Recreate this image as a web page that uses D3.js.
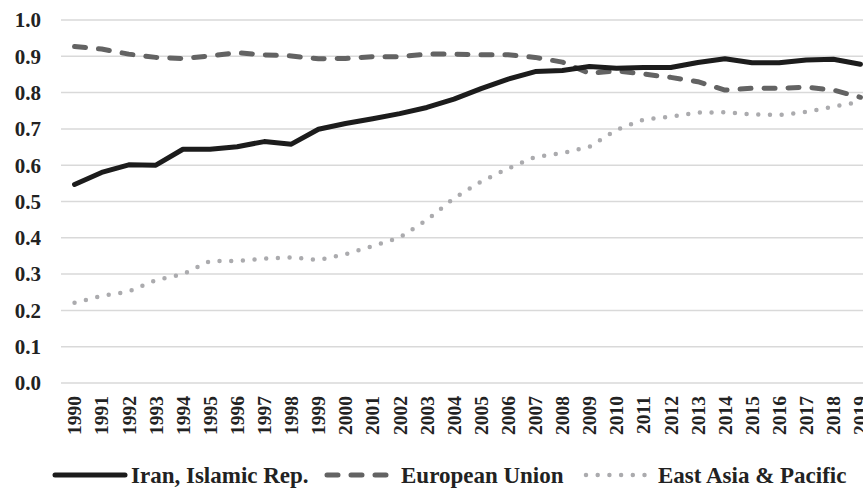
<!DOCTYPE html>
<html>
<head>
<meta charset="utf-8">
<script src="https://cdn.jsdelivr.net/npm/d3@7"></script>
<style>
body { margin: 0; background: #fff; }
</style>
</head>
<body>
<div id="chart"></div>
<script>
var width = 863;
var height = 490;
var font = "'Liberation Serif', 'Tinos', 'Times New Roman', 'DejaVu Serif', serif"

var years = d3.range(1990, 2020).map(String)
var yTicks = [0, 0.1, 0.2, 0.3, 0.4, 0.5, 0.6, 0.7, 0.8, 0.9, 1.0]

var iran = [0.547, 0.580, 0.601, 0.600, 0.644, 0.644, 0.651, 0.665, 0.658, 0.699,
	0.715, 0.728, 0.742, 0.759, 0.782, 0.811, 0.837, 0.858, 0.861, 0.872,
	0.867, 0.869, 0.869, 0.883, 0.893, 0.882, 0.882, 0.890, 0.892, 0.878]
var eu = [0.927, 0.920, 0.906, 0.897, 0.894, 0.901, 0.910, 0.904, 0.901, 0.893,
	0.894, 0.899, 0.899, 0.906, 0.906, 0.904, 0.904, 0.897, 0.884, 0.853,
	0.860, 0.851, 0.842, 0.830, 0.807, 0.812, 0.812, 0.815, 0.807, 0.787]
var eap = [0.221, 0.240, 0.252, 0.283, 0.300, 0.336, 0.336, 0.343, 0.346, 0.339,
	0.355, 0.377, 0.401, 0.449, 0.509, 0.555, 0.591, 0.623, 0.633, 0.651,
	0.697, 0.726, 0.734, 0.745, 0.746, 0.740, 0.738, 0.747, 0.761, 0.775]

var series = [
	{name: "Iran, Islamic Rep.", values: iran, color: "#1c1c1c", width: 5, dash: null},
	{name: "European Union", values: eu, color: "#636363", width: 5, dash: "11,13"},
	{name: "East Asia & Pacific", values: eap, color: "#ababae", width: 4.5, dash: "0,11.7"}
]

var svg = d3.select("#chart").append("svg")
.attr("width", width)
.attr("height", height)

var x = d3.scaleBand()
.domain(years)
.range([61, 874])

var y = d3.scaleLinear()
.domain([0, 1])
.range([383, 20])

// gridlines
svg.append("g")
.selectAll("line")
.data(yTicks)
.enter()
.append("line")
.attr("x1", 61)
.attr("x2", 874)
.attr("y1", d => y(d))
.attr("y2", d => y(d))
.attr("stroke", "#d9d9d9")
.attr("stroke-width", 1.5)

// y axis labels
svg.append("g")
.selectAll("text")
.data(yTicks)
.enter()
.append("text")
.attr("x", 41)
.attr("y", d => y(d))
.attr("dy", "0.35em")
.attr("text-anchor", "end")
.attr("font-family", font)
.attr("font-weight", "bold")
.attr("fill", "#222")
.style("font-size", "21px")
.text(d => d.toFixed(1))

// x axis labels
svg.append("g")
.selectAll("text")
.data(years)
.enter()
.append("text")
.attr("transform", d => "translate(" + (x(d) + x.bandwidth() / 2) + ",396) rotate(-90)")
.attr("dy", "0.35em")
.attr("text-anchor", "end")
.attr("font-family", font)
.attr("font-weight", "bold")
.attr("fill", "#222")
.style("font-size", "19.5px")
.text(d => d)

var line = d3.line()
.x((d, i) => x(years[i]) + x.bandwidth() / 2)
.y(d => y(d))

svg.append("g")
.selectAll("path")
.data(series.slice().reverse())
.enter()
.append("path")
.attr("d", d => line(d.values))
.attr("fill", "none")
.attr("stroke", d => d.color)
.attr("stroke-width", d => d.width)
.attr("stroke-dasharray", d => d.dash)
.attr("stroke-linecap", "round")
.attr("stroke-linejoin", "round")

// legend
var legendItems = [
	{x1: 55, x2: 125, tx: 131},
	{x1: 327, x2: 390, tx: 401},
	{x1: 586, x2: 650, tx: 658}
]

var lg = svg.append("g")
.selectAll("g")
.data(series)
.enter()
.append("g")

lg.append("line")
.attr("x1", (d, i) => legendItems[i].x1)
.attr("x2", (d, i) => legendItems[i].x2)
.attr("y1", 475)
.attr("y2", 475)
.attr("stroke", d => d.color)
.attr("stroke-width", d => d.width)
.attr("stroke-dasharray", d => d.dash)
.attr("stroke-linecap", "round")

lg.append("text")
.attr("x", (d, i) => legendItems[i].tx)
.attr("y", 483)
.attr("font-family", font)
.attr("font-weight", "bold")
.attr("fill", "#222")
.style("font-size", "23px")
.text(d => d.name)
</script>
</body>
</html>
